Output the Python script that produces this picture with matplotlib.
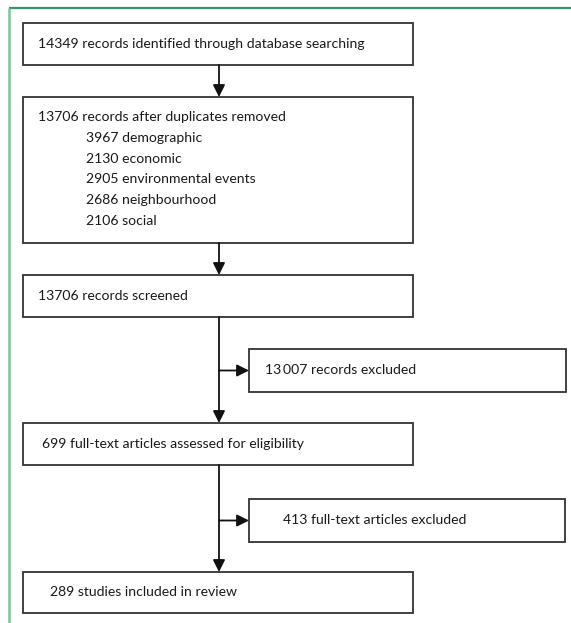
import matplotlib.pyplot as plt
from matplotlib.patches import Rectangle

# Flow diagram content
main_labels = [
    "14349 records identified through database searching",
    "13706 records after duplicates removed",
    "13706 records screened",
    "699 full-text articles assessed for eligibility",
    "289 studies included in review",
]
sub_counts = [3967, 2130, 2905, 2686, 2106]
sub_categories = ["demographic", "economic", "environmental events", "neighbourhood", "social"]
excluded_labels = ["13\u2009007 records excluded", "413 full-text articles excluded"]

plt.rcParams["font.family"] = ["Lato", "DejaVu Sans"]

W, H = 571, 623
fig = plt.figure(figsize=(W / 100, H / 100), dpi=100)
ax = fig.add_axes([0, 0, 1, 1])
ax.set_xlim(0, W)
ax.set_ylim(H, 0)
ax.axis("off")

edge = "#333333"
txt = "#1a1a1a"
fs = 10.1

# green frame
ax.plot([9, W], [8, 8], color="#2b9a68", lw=1.6, solid_capstyle="butt")
ax.plot([9, 9], [8, H], color="#7cc29c", lw=1.8, solid_capstyle="butt")

# main boxes: (top, bottom)
main_boxes = [(23, 65), (97, 243), (275, 317), (423, 465), (572, 613)]
main_x0, main_x1 = 23, 413
text_x = [38, 38, 38, 42, 50]
for (y0, y1), label, tx in zip(main_boxes, main_labels, text_x):
    ax.add_patch(Rectangle((main_x0, y0), main_x1 - main_x0, y1 - y0,
                           fill=False, ec=edge, lw=1.3))
    ty = (y0 + y1) / 2 if y1 - y0 < 60 else y0 + 20
    ax.text(tx, ty, label, fontsize=fs, va="center", ha="left", color=txt)

# sub lines in second box
for i, (c, cat) in enumerate(zip(sub_counts, sub_categories)):
    ax.text(86, 138 + i * 20.7, f"{c} {cat}", fontsize=fs, va="center", ha="left",
            color=txt)

# excluded boxes
excl_boxes = [(349, 392, 249, 566, 265), (499, 542, 249, 565, 283)]
for (y0, y1, x0, x1, tx), label in zip(excl_boxes, excluded_labels):
    ax.add_patch(Rectangle((x0, y0), x1 - x0, y1 - y0, fill=False, ec=edge, lw=1.3))
    ax.text(tx, (y0 + y1) / 2, label, fontsize=fs, va="center", ha="left", color=txt)

cx = 219
arrow = dict(arrowstyle="-|>", color="#111111", lw=1.3, mutation_scale=18,
             shrinkA=0, shrinkB=0)

# vertical arrows between main boxes
for (a0, a1), (b0, b1) in zip(main_boxes[:-1], main_boxes[1:]):
    ax.annotate("", xy=(cx, b0), xytext=(cx, a1), arrowprops=arrow)

# side arrows to excluded boxes
for (y0, y1, x0, x1, tx) in excl_boxes:
    ym = (y0 + y1) / 2
    ax.annotate("", xy=(x0, ym), xytext=(cx, ym), arrowprops=arrow)

fig.savefig("out.png", dpi=100)
